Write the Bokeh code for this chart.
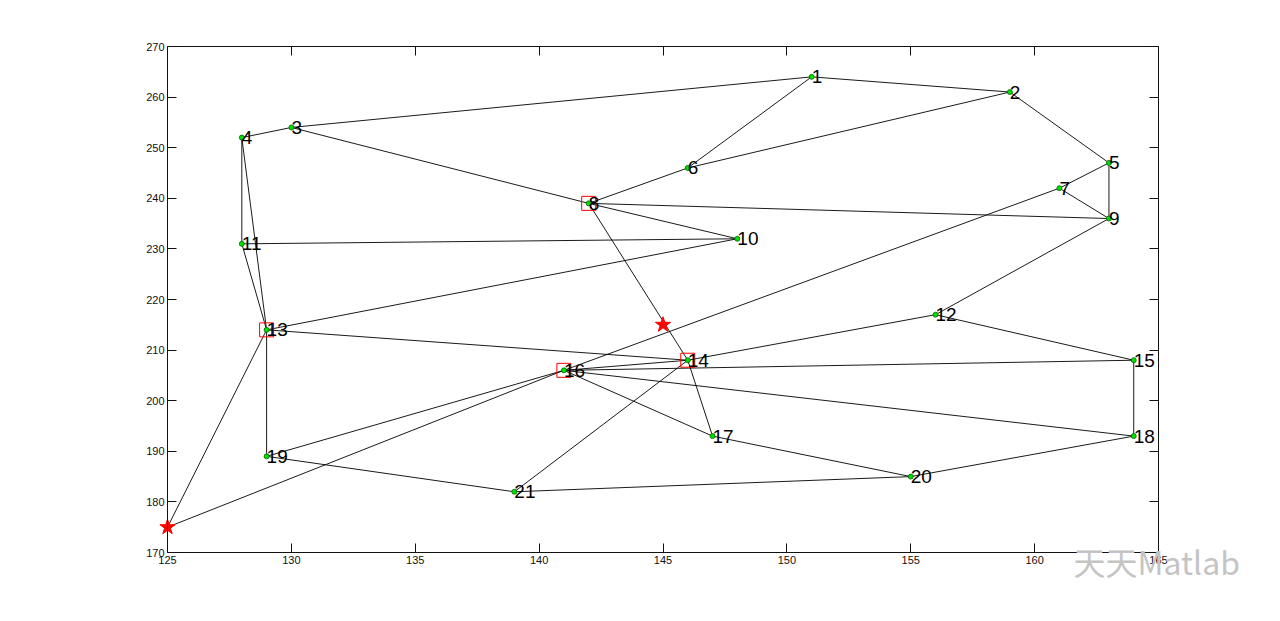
from bokeh.plotting import figure
from bokeh.models import LinearAxis, FixedTicker, Label, Range1d
from bokeh.embed import file_html
from bokeh.resources import INLINE
from bokeh.core.properties import value

# ---- data ----
node_x = [151, 159, 130, 128, 163, 146, 161, 142, 163, 148, 128,
          156, 129, 146, 164, 141, 147, 164, 129, 155, 139]
node_y = [264, 261, 254, 252, 247, 246, 242, 239, 236, 232, 231,
          217, 214, 208, 208, 206, 193, 193, 189, 185, 182]
node_labels = [str(i) for i in range(1, 22)]

edges = [(1, 2), (1, 3), (1, 6), (2, 6), (2, 5), (5, 9), (5, 7), (7, 9), (7, 16),
         (3, 4), (3, 8), (4, 11), (4, 13), (11, 13), (11, 10), (8, 6), (8, 10),
         (8, 9), (8, 14), (13, 10), (13, 14), (13, 19), (16, 19), (16, 14),
         (16, 15), (16, 18), (16, 17), (14, 12), (14, 21), (14, 17), (12, 9),
         (12, 15), (15, 18), (18, 20), (17, 20), (21, 20), (19, 21)]

star_x = [125, 145]
star_y = [175, 215]
star_edges = [(0, 13), (0, 16)]   # star index -> node

square_nodes = [8, 13, 14, 16]

x_ticks = [125, 130, 135, 140, 145, 150, 155, 160, 165]
y_ticks = [170, 180, 190, 200, 210, 220, 230, 240, 250, 260, 270]
x_lim = (125, 165)
y_lim = (170, 270)

# ---- layout (axes box 991 x 506 px, drawn with fixed-location axes so that
#      marks on the box edge are not clipped) ----
BOX_L, BOX_R, BOX_T, BOX_B = 167, 1158, 46, 552
FR_L, FR_R, FR_T, FR_B = 137, 1244, 34, 590
W, H = 1264, 613
xpp = (x_lim[1] - x_lim[0]) / (BOX_R - BOX_L)
ypp = (y_lim[1] - y_lim[0]) / (BOX_B - BOX_T)
x_range = Range1d(x_lim[0] - (BOX_L - FR_L) * xpp, x_lim[1] + (FR_R - BOX_R) * xpp)
y_range = Range1d(y_lim[0] - (FR_B - BOX_B) * ypp, y_lim[1] + (BOX_T - FR_T) * ypp)

p = figure(width=W, height=H, output_backend="svg", toolbar_location=None,
           x_range=x_range, y_range=y_range, x_axis_location=None, y_axis_location=None,
           min_border_left=FR_L, min_border_right=W - FR_R,
           min_border_top=FR_T, min_border_bottom=H - FR_B)
p.xgrid.visible = False
p.ygrid.visible = False
p.outline_line_color = None
p.background_fill_color = "white"
p.border_fill_color = "white"

def make_axis(ticks, loc, bounds, labels=True):
    ax = LinearAxis(fixed_location=loc, bounds=bounds)
    ax.ticker = FixedTicker(ticks=ticks)
    ax.major_tick_in = 9
    ax.major_tick_out = 0
    ax.minor_tick_line_color = None
    ax.axis_line_color = "#111111"
    ax.major_tick_line_color = "#111111"
    ax.major_label_text_font = "Liberation Sans"
    ax.major_label_text_font_size = "11px"
    ax.major_label_text_color = "#111111" if labels else None
    ax.major_label_standoff = 3
    return ax

p.add_layout(make_axis(x_ticks, y_lim[0], x_lim), "below")
p.add_layout(make_axis(y_ticks, x_lim[0], y_lim), "left")
p.add_layout(make_axis(x_ticks, y_lim[1], x_lim, labels=False), "above")
p.add_layout(make_axis(y_ticks, x_lim[1], y_lim, labels=False), "right")

# edges
xs, ys = [], []
for a, b in edges:
    xs.append([node_x[a - 1], node_x[b - 1]])
    ys.append([node_y[a - 1], node_y[b - 1]])
for s, n in star_edges:
    xs.append([star_x[s], node_x[n - 1]])
    ys.append([star_y[s], node_y[n - 1]])
p.multi_line(xs, ys, line_color="black", line_width=0.9)

# squares
p.scatter([node_x[i - 1] for i in square_nodes], [node_y[i - 1] for i in square_nodes],
          marker="square", size=14, fill_color=None, line_color="red", line_width=1)

# nodes
p.scatter(node_x, node_y, marker="circle", size=5, fill_color="#00e000",
          line_color="#006600", line_width=0.8)

# labels
p.text(node_x, node_y, text=node_labels, text_font=value("Liberation Sans"),
       text_font_size="19px", text_baseline="middle", text_align="left",
       text_color="black")

# stars
p.scatter(star_x, star_y, marker="star", size=16, fill_color="red", line_color="red")

# watermark
p.add_layout(Label(x=161.57, y=168.3, text="天天Matlab", text_font="Noto Sans CJK SC",
                   text_font_size="32px", text_color="#c4c4c4",
                   text_baseline="middle", text_align="left"))

open("out.html", "w").write(file_html(p, INLINE))
